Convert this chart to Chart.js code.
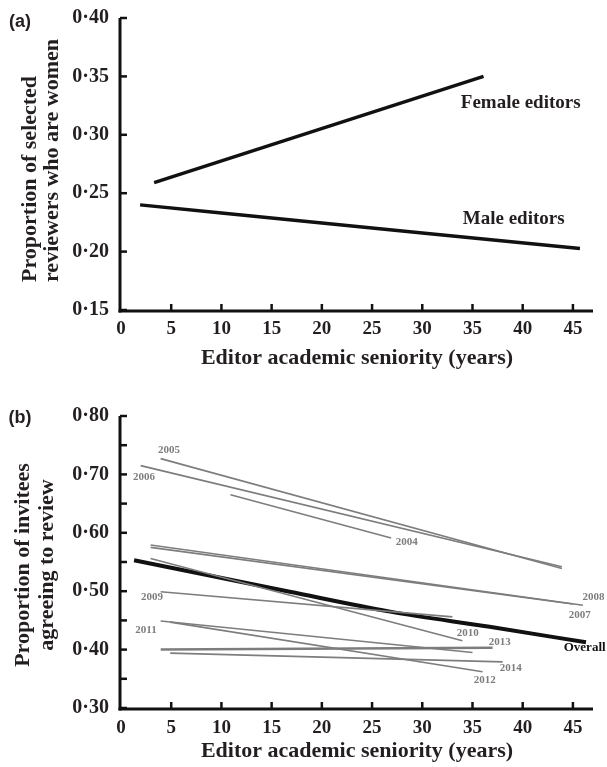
<!DOCTYPE html>
<html><head><meta charset="utf-8">
<script src="https://cdn.jsdelivr.net/npm/chart.js@4/dist/chart.umd.min.js"></script>
<style>
html,body{margin:0;padding:0;background:#fff;}
#wrap{position:relative;width:607px;height:767px;overflow:hidden;}
canvas{position:absolute;left:0;}
</style></head><body>
<div id="wrap">
<canvas id="ca" width="607" height="378" style="top:0"></canvas>
<canvas id="cb" width="607" height="389" style="top:378px"></canvas>
</div>
<script>
// ---------- Panel (a) data ----------
const femaleX = [3.3, 36.1];
const femaleY = [0.259, 0.350];
const maleX = [1.9, 10, 20, 30, 45.7];
const maleY = [0.240, 0.233, 0.2245, 0.216, 0.2026];
const panelALabels = ['Female editors', 'Male editors'];
const panelALabelX = [39.8, 39.1];
const panelALabelY = [0.3275, 0.228];
const xTickValues = [0, 5, 10, 15, 20, 25, 30, 35, 40, 45];
const yTickValuesA = [0.15, 0.20, 0.25, 0.30, 0.35, 0.40];

// ---------- Panel (b) data ----------
const years  = ['2004','2005','2006','2007','2008','2009','2010','2011','2012','2013','2014'];
const startX = [10.9, 3.95, 1.96, 2.95, 2.95, 3.95, 2.95, 3.95, 4.9, 3.95, 4.9];
const startY = [0.665, 0.727, 0.715, 0.575, 0.579, 0.499, 0.556, 0.449, 0.447, 0.400, 0.394];
const endX   = [26.9, 43.9, 43.9, 45.0, 46.0, 33.0, 34.0, 35.0, 36.0, 37.0, 38.0];
const endY   = [0.591, 0.539, 0.542, 0.478, 0.476, 0.456, 0.415, 0.395, 0.362, 0.403, 0.379];
const yearLabelX = [28.46, 4.78, 2.29, 45.67, 47.06, 3.08, 34.53, 2.49, 36.22, 37.71, 38.81];
const yearLabelY = [0.584, 0.742, 0.696, 0.459, 0.490, 0.490, 0.428, 0.434, 0.348, 0.413, 0.368];
const overallX = [1.3, 16.8, 26.8, 36.7, 46.3];
const overallY = [0.553, 0.499, 0.465, 0.439, 0.4125];
const overallLabel = 'Overall';
const overallLabelX = 46.17;
const overallLabelY = 0.404;
const yTickValuesB = [0.30, 0.35, 0.40, 0.45, 0.50, 0.55, 0.60, 0.65, 0.70, 0.75, 0.80];

const xTitle = 'Editor academic seniority (years)';
const yTitleA = ['Proportion of selected', 'reviewers who are women'];
const yTitleB = ['Proportion of invitees', 'agreeing to review'];

// ---------- helpers ----------
const SERIF = '"Liberation Serif","Times New Roman",serif';
const SANS = '"Liberation Sans",Arial,sans-serif';
const INK = '#231f20';
function fmt(v){ return v.toFixed(2).replace('.', '\u00b7'); }
function pts(xs, ys){ return xs.map((x, i) => ({x: x, y: ys[i]})); }

function decoPlugin(cfg){
  return {
    id: 'deco' + cfg.id,
    afterDraw(chart){
      const ctx = chart.ctx, a = chart.chartArea;
      const xs = chart.scales.x, ys = chart.scales.y;
      ctx.save();
      ctx.strokeStyle = '#111';
      ctx.lineWidth = 3;
      ctx.beginPath(); ctx.moveTo(a.left - 1, a.top); ctx.lineTo(a.left - 1, a.bottom + 2.5); ctx.stroke();
      ctx.beginPath(); ctx.moveTo(a.left - 2.5, a.bottom + 1); ctx.lineTo(a.right, a.bottom + 1); ctx.stroke();
      ctx.lineWidth = 2.5;
      ys.ticks.forEach(t => {
        const y = ys.getPixelForValue(t.value);
        ctx.beginPath(); ctx.moveTo(a.left - 1, y); ctx.lineTo(a.left + 6, y); ctx.stroke();
      });
      xs.ticks.forEach(t => {
        if (t.value === 0) return;
        const x = xs.getPixelForValue(t.value);
        ctx.beginPath(); ctx.moveTo(x, a.bottom + 1); ctx.lineTo(x, a.bottom - 6); ctx.stroke();
      });
      // x title
      ctx.fillStyle = INK;
      ctx.font = 'bold 22px ' + SERIF;
      ctx.textAlign = 'center'; ctx.textBaseline = 'middle';
      ctx.fillText(xTitle, (a.left + a.right) / 2, a.bottom + cfg.xTitleDy);
      // y title
      cfg.yTitle.forEach((line, i) => {
        ctx.save();
        ctx.translate(cfg.yTitleX[i], cfg.yTitleY);
        ctx.rotate(-Math.PI / 2);
        ctx.textAlign = cfg.yTitleAlign;
        ctx.textBaseline = 'middle';
        ctx.fillText(line, 0, 0);
        ctx.restore();
      });
      // panel letter
      ctx.font = 'bold 18px ' + SANS;
      ctx.textAlign = 'center'; ctx.textBaseline = 'middle';
      ctx.fillText(cfg.letter, cfg.letterX, cfg.letterY);
      // series labels
      cfg.labels.forEach(l => {
        ctx.font = l.font; ctx.fillStyle = l.color;
        ctx.fillText(l.text, xs.getPixelForValue(l.x), ys.getPixelForValue(l.y));
      });
      ctx.restore();
    }
  };
}

function baseOptions(yMin, yMax, yTicks, yLabelFn, padTop, xHeight, xPad){
  return {
    responsive: false, animation: false, devicePixelRatio: 1,
    layout: {padding: {left: 0, top: padTop, right: 14, bottom: 0}},
    plugins: {legend: {display: false}, tooltip: {enabled: false}},
    elements: {point: {radius: 0}},
    scales: {
      x: {
        type: 'linear', min: 0, max: 47,
        grid: {display: false}, border: {display: false},
        afterBuildTicks: s => { s.ticks = xTickValues.map(v => ({value: v})); },
        afterFit: s => { s.height = xHeight; },
        ticks: {color: INK, padding: xPad, font: {family: SERIF, size: 19, weight: 'bold'},
                callback: v => String(v)}
      },
      y: {
        type: 'linear', min: yMin, max: yMax,
        grid: {display: false}, border: {display: false},
        afterBuildTicks: s => { s.ticks = yTicks.map(v => ({value: v})); },
        afterFit: s => { s.width = 121; },
        ticks: {color: INK, padding: 4, font: {family: SERIF, size: 20, weight: 'bold'},
                callback: yLabelFn}
      }
    }
  };
}

// ---------- Chart (a) ----------
new Chart(document.getElementById('ca'), {
  type: 'scatter',
  data: {datasets: [
    {label: 'Female editors', data: pts(femaleX, femaleY), showLine: true, borderColor: '#111', borderWidth: 3.5},
    {label: 'Male editors', data: pts(maleX, maleY), showLine: true, borderColor: '#111', borderWidth: 3.5}
  ]},
  options: baseOptions(0.15, 0.40, yTickValuesA, v => fmt(v), 18, 68, 0),
  plugins: [decoPlugin({
    id: 'a', xTitleDy: 48,
    yTitle: yTitleA, yTitleX: [30, 52], yTitleY: 282, yTitleAlign: 'left',
    letter: '(a)', letterX: 20, letterY: 22,
    labels: panelALabels.map((t, i) => ({text: t, x: panelALabelX[i], y: panelALabelY[i],
      font: 'bold 19px ' + SERIF, color: INK}))
  })]
});

// ---------- Chart (b) ----------
const dsB = years.map((y, i) => ({
  label: y, data: [{x: startX[i], y: startY[i]}, {x: endX[i], y: endY[i]}],
  showLine: true, borderColor: '#7d7d7d', borderWidth: (y === '2013') ? 2.5 : 1.6
}));
dsB.push({label: overallLabel, data: pts(overallX, overallY), showLine: true,
  borderColor: '#111', borderWidth: 4, cubicInterpolationMode: 'monotone'});
const labelsB = years.map((t, i) => ({text: t, x: yearLabelX[i], y: yearLabelY[i],
  font: 'bold 11px ' + SERIF, color: '#7d7d7d'}));
labelsB.push({text: overallLabel, x: overallLabelX, y: overallLabelY, font: 'bold 13px ' + SERIF, color: '#111'});

new Chart(document.getElementById('cb'), {
  type: 'scatter',
  data: {datasets: dsB},
  options: baseOptions(0.30, 0.80, yTickValuesB,
    v => (Math.round(v * 100) % 10 === 0 ? fmt(v) : ''), 38, 59, 1),
  plugins: [decoPlugin({
    id: 'b', xTitleDy: 43,
    yTitle: yTitleB, yTitleX: [23, 47], yTitleY: 187, yTitleAlign: 'center',
    letter: '(b)', letterX: 20, letterY: 40,
    labels: labelsB
  })]
});
</script>
</body></html>
